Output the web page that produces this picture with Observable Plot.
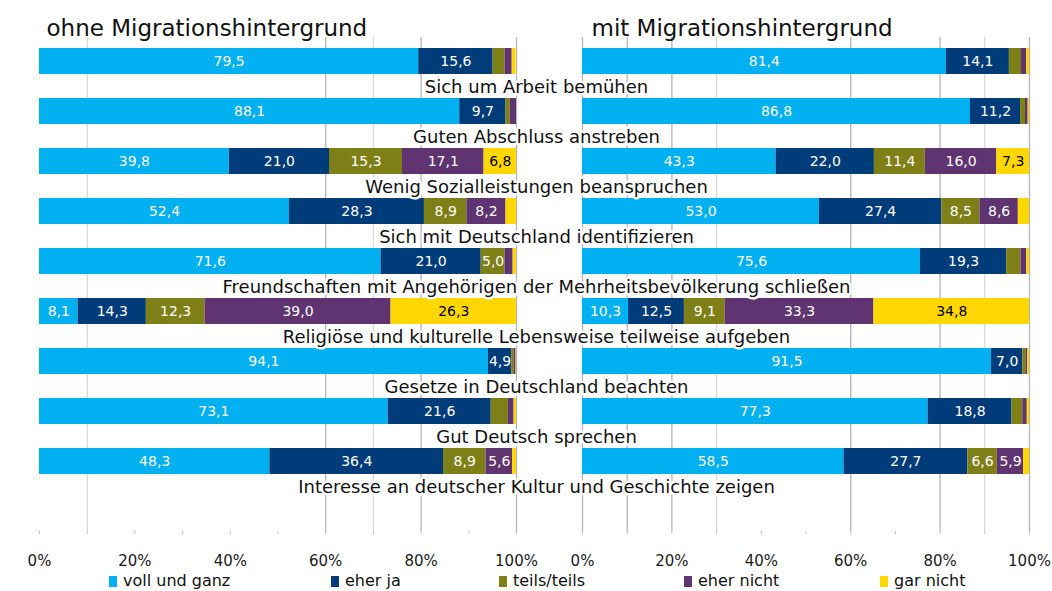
<!DOCTYPE html>
<html><head><meta charset="utf-8">
<script src="https://cdn.jsdelivr.net/npm/d3@7"></script>
<script src="https://cdn.jsdelivr.net/npm/@observablehq/plot@0.6"></script>
<style>
body{margin:0;background:#fff;font-family:"DejaVu Sans",sans-serif;}
#wrap{position:relative;width:1052px;height:591px;overflow:hidden;background:#fff;}
#left,#right{position:absolute;top:0;}
#left{left:0;width:530px;z-index:2;}
#right{left:530px;width:522px;z-index:1;}
.lg-sw{position:absolute;top:576px;width:8px;height:11px;}
.lg-tx{position:absolute;top:571px;font-size:16px;line-height:20px;color:#111;white-space:nowrap;}
</style></head><body>
<div id="wrap"><div id="right"></div><div id="left"></div><div id="legend"></div></div>
<script>
// category labels (each printed below its bar)
const categories = [
  "Sich um Arbeit bemühen",
  "Guten Abschluss anstreben",
  "Wenig Sozialleistungen beanspruchen",
  "Sich mit Deutschland identifizieren",
  "Freundschaften mit Angehörigen der Mehrheitsbevölkerung schließen",
  "Religiöse und kulturelle Lebensweise teilweise aufgeben",
  "Gesetze in Deutschland beachten",
  "Gut Deutsch sprechen",
  "Interesse an deutscher Kultur und Geschichte zeigen"
];
const answers = ["voll und ganz", "eher ja", "teils/teils", "eher nicht", "gar nicht"];
const answerColors = ["#00b0f0", "#003c7a", "#7f7f17", "#5f3470", "#ffd700"];
const panelTitles = ["ohne Migrationshintergrund", "mit Migrationshintergrund"];
const tickValues = [0, 20, 40, 60, 80, 100];
const minorTicks = [0, 10, 20, 30, 40, 50, 60, 70, 80, 90, 100];

// ohne Migrationshintergrund
const ohne_vollUndGanz = [79.5, 88.1, 39.8, 52.4, 71.6, 8.1, 94.1, 73.1, 48.3];
const ohne_eherJa      = [15.6, 9.7, 21.0, 28.3, 21.0, 14.3, 4.9, 21.6, 36.4];
const ohne_teilsTeils  = [2.5, 0.9, 15.3, 8.9, 5.0, 12.3, 0.5, 3.6, 8.9];
const ohne_eherNicht   = [1.5, 1.3, 17.1, 8.2, 1.7, 39.0, 0.4, 1.2, 5.6];
const ohne_garNicht    = [0.8, 0.0, 6.8, 2.2, 0.7, 26.3, 0.1, 0.5, 0.8];
// mit Migrationshintergrund
const mit_vollUndGanz = [81.4, 86.8, 43.3, 53.0, 75.6, 10.3, 91.5, 77.3, 58.5];
const mit_eherJa      = [14.1, 11.2, 22.0, 27.4, 19.3, 12.5, 7.0, 18.8, 27.7];
const mit_teilsTeils  = [2.7, 1.1, 11.4, 8.5, 3.2, 9.1, 0.7, 2.4, 6.6];
const mit_eherNicht   = [1.2, 0.6, 16.0, 8.6, 1.3, 33.3, 0.4, 1.0, 5.9];
const mit_garNicht    = [0.6, 0.3, 7.3, 2.5, 0.6, 34.8, 0.4, 0.5, 1.3];

// visible vertical gridlines (as in the reference)
const gridLeftDark = [60, 80, 100], gridLeftLight = [10, 70];
const gridRightDark = [0, 10, 20, 60, 80, 100], gridRightLight = [30, 90];

function rows(series) {
  const out = [];
  categories.forEach((c, i) => series.forEach((s, j) => out.push({cat: c, answer: answers[j], value: s[i]})));
  return out;
}
const ohneData = rows([ohne_vollUndGanz, ohne_eherJa, ohne_teilsTeils, ohne_eherNicht, ohne_garNicht]);
const mitData = rows([mit_vollUndGanz, mit_eherJa, mit_teilsTeils, mit_eherNicht, mit_garNicht]);
const fmt = v => v.toFixed(1).replace(".", ",");

function panel({data, title, width, marginLeft, marginRight, titleDx, gridDark, gridLight, withLabels}) {
  const marks = [
    Plot.ruleX(gridLight, {stroke: "#d9d9d9", strokeWidth: 1.3}),
    Plot.ruleX(gridDark, {stroke: "#b5b5b5", strokeWidth: 1.3}),
    Plot.axisX(minorTicks, {anchor: "bottom", tickSize: 3, stroke: "#c0c0c0", tickFormat: () => "", label: null}),
    Plot.axisX(tickValues, {anchor: "bottom", tickSize: 0, tickPadding: 24, tickFormat: d => d + "%", fontSize: 15, fill: "#1a1a1a", label: null}),
    Plot.barX(data, {x: "value", y: "cat", fill: "answer"}),
    Plot.text(data, Plot.stackX({x: "value", y: "cat", text: d => (d.value >= 4.5 && d.answer !== "gar nicht") ? fmt(d.value) : null, fill: "white", fontSize: 14})),
    Plot.text(data, Plot.stackX({x: "value", y: "cat", text: d => (d.value >= 4.5 && d.answer === "gar nicht") ? fmt(d.value) : null, fill: "black", fontSize: 14})),
    Plot.text([title], {frameAnchor: "top-left", textAnchor: "start", lineAnchor: "middle", dx: titleDx, dy: -9, fontSize: 23, fill: "#111"})
  ];
  if (withLabels) {
    marks.push(Plot.text(categories, {y: d => d, frameAnchor: "right", textAnchor: "middle", dx: 20, dy: 26,
      fontSize: 18, fill: "#111", stroke: "white", strokeWidth: 5, strokeLinejoin: "round"}));
  }
  return Plot.plot({
    width, height: 572, marginLeft, marginRight, marginTop: 37, marginBottom: 41,
    style: {background: "transparent", overflow: "visible", fontFamily: "DejaVu Sans, sans-serif"},
    x: {domain: [0, 100], axis: null},
    y: {type: "band", domain: categories, range: [47.3, 473.5], paddingInner: 0.49, paddingOuter: 0, axis: null},
    color: {domain: answers, range: answerColors},
    marks
  });
}

document.getElementById("left").append(panel({data: ohneData, title: panelTitles[0], width: 530, marginLeft: 39, marginRight: 14, titleDx: 7,
  gridDark: gridLeftDark, gridLight: gridLeftLight, withLabels: true}));
document.getElementById("right").append(panel({data: mitData, title: panelTitles[1], width: 522, marginLeft: 52, marginRight: 23, titleDx: 9,
  gridDark: gridRightDark, gridLight: gridRightLight, withLabels: false}));

// legend
const legendX = [109, 331, 499, 684, 880];
const lg = document.getElementById("legend");
answers.forEach((a, i) => {
  const sw = document.createElement("div");
  sw.className = "lg-sw"; sw.style.left = legendX[i] + "px"; sw.style.background = answerColors[i];
  const tx = document.createElement("div");
  tx.className = "lg-tx"; tx.style.left = (legendX[i] + 14) + "px"; tx.textContent = a;
  lg.append(sw, tx);
});
</script>
</body></html>
